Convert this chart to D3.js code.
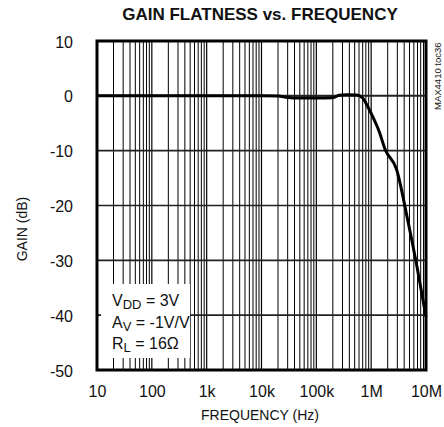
<!DOCTYPE html>
<html><head><meta charset="utf-8">
<script src="https://cdn.jsdelivr.net/npm/d3@7"></script>
<style>
html,body{margin:0;padding:0;background:#fff;}
text{font-family:"Liberation Sans Narrow","Arial Narrow","Liberation Sans",sans-serif;fill:#111;}
</style></head>
<body>
<svg id="c" width="444" height="427"></svg>
<script>
const freqHz = [10,100,1000,10000,20000,30000,50000,100000,200000,260000,350000,550000,700000,850000,1000000,1400000,1800000,2900000,4500000,6800000,10000000];
const gainDb = [0,0,0,0,-0.05,-0.3,-0.4,-0.4,-0.35,0.1,0.2,0.15,-0.4,-1.8,-3.2,-6.5,-9.8,-13.4,-22,-31,-40.3];
const xTickValues = [10,100,1000,10000,100000,1000000,10000000];
const xTickLabels = ["10","100","1k","10k","100k","1M","10M"];
const yTickValues = [10,0,-10,-20,-30,-40,-50];
const yTickLabels = ["10","0","-10","-20","-30","-40","-50"];
const noteLines = [["V","DD"," = 3V"],["A","V"," = -1V/V"],["R","L"," = 16Ω"]];

const svg = d3.select("#c");
const L=97,R=426,T=41,B=370;
const x = d3.scaleLog().domain([10,1e7]).range([L,R]);
const y = d3.scaleLinear().domain([-50,10]).range([B,T]);

// minor vertical grid
const minor=[];
for(let d=10; d<1e7; d*=10){ for(let k=2;k<=9;k++) minor.push(d*k); }
const g = svg.append("g");
g.selectAll("line.mn").data(minor).enter().append("line")
 .attr("x1",d=>x(d)).attr("x2",d=>x(d)).attr("y1",T).attr("y2",B)
 .attr("stroke","#000").attr("stroke-width",1);
g.selectAll("line.mj").data(xTickValues).enter().append("line")
 .attr("x1",d=>x(d)).attr("x2",d=>x(d)).attr("y1",T).attr("y2",B)
 .attr("stroke","#000").attr("stroke-width",1.2);
g.selectAll("line.h").data(yTickValues).enter().append("line")
 .attr("x1",L).attr("x2",R).attr("y1",d=>y(d)).attr("y2",d=>y(d))
 .attr("stroke","#222").attr("stroke-width",d=>d===0?2:1.6);

// annotation box
svg.append("rect").attr("x",101).attr("y",284).attr("width",89).attr("height",74).attr("fill","#fff");
const nt = svg.append("g");
noteLines.forEach((ln,i)=>{
  const t = nt.append("text").attr("x",112).attr("y",306+i*21.5).attr("font-size",16).attr("fill","#222");
  t.append("tspan").text(ln[0]);
  t.append("tspan").text(ln[1]).attr("dy",3).attr("font-size",13);
  t.append("tspan").text(ln[2]).attr("dy",-3);
});

// curve
const line = d3.line().x((d,i)=>x(freqHz[i])).y(d=>y(d)).curve(d3.curveMonotoneX);
svg.append("path").attr("d",line(gainDb)).attr("fill","none").attr("stroke","#000").attr("stroke-width",3).attr("stroke-linejoin","round");

// border
svg.append("rect").attr("x",L).attr("y",T).attr("width",R-L).attr("height",B-T)
 .attr("fill","none").attr("stroke","#000").attr("stroke-width",3);

// axes labels
const xa = d3.axisBottom(x).tickValues(xTickValues).tickFormat((d,i)=>xTickLabels[i]).tickSize(0).tickPadding(0);
const gx = svg.append("g").attr("transform",`translate(0,${B})`).call(xa);
gx.select(".domain").remove();
gx.selectAll("text").attr("dy",null).attr("y",27).attr("font-size",16).attr("fill","#222");
const ya = d3.axisLeft(y).tickValues(yTickValues).tickFormat((d,i)=>yTickLabels[i]).tickSize(0).tickPadding(0);
const gy = svg.append("g").attr("transform",`translate(73,0)`).call(ya);
gy.select(".domain").remove();
gy.selectAll("text").attr("dy","0.38em").attr("x",0).attr("font-size",16).attr("fill","#222");

svg.append("text").attr("x",260).attr("y",20).attr("text-anchor","middle")
 .attr("font-size",17).attr("font-weight","bold").text("GAIN FLATNESS vs. FREQUENCY");
svg.append("text").attr("x",260).attr("y",420).attr("text-anchor","middle")
 .attr("font-size",14).attr("fill","#222").text("FREQUENCY (Hz)");
svg.append("text").attr("transform","translate(27,229) rotate(-90)").attr("text-anchor","middle")
 .attr("font-size",14).attr("fill","#222").text("GAIN (dB)");
svg.append("text").attr("transform","translate(441,110) rotate(-90)").attr("text-anchor","start")
 .attr("font-size",9.5).attr("fill","#333").text("MAX4410 toc36");
</script>
</body></html>
